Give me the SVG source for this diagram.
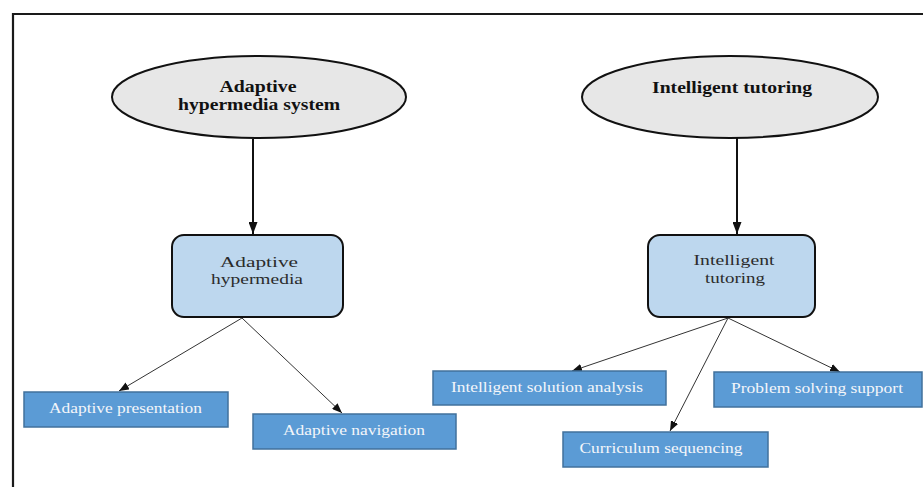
<svg xmlns="http://www.w3.org/2000/svg" width="923" height="487" viewBox="0 0 923 487">
  <style>
    .frame { fill: none; stroke: #1a1a1a; stroke-width: 2.2; }
    .root { fill: #e7e7e7; stroke: #111; stroke-width: 2; }
    .mid { fill: #bdd7ee; stroke: #111; stroke-width: 2; }
    .leaf { fill: #5b9bd5; stroke: #41719c; stroke-width: 1.5; }
    .t-root { font-family: "Liberation Serif", serif; font-weight: bold; font-size: 17px; fill: #111; text-anchor: middle; }
    .t-mid { font-family: "Liberation Serif", serif; font-size: 15px; fill: #2b2b2b; text-anchor: middle; }
    .t-leaf { font-family: "Liberation Serif", serif; font-size: 15px; fill: #f4f6fa; text-anchor: middle; }
    .thick { stroke: #111; stroke-width: 2; fill: none; }
    .thin { stroke: #333; stroke-width: 1; fill: none; }
  </style>
  <defs>
    <marker id="head" viewBox="0 0 12 9" refX="12" refY="4.5" markerWidth="12" markerHeight="9" markerUnits="userSpaceOnUse" orient="auto">
      <path d="M0,0 L12,4.5 L0,9 Z" fill="#111"/>
    </marker>
    <marker id="headSmall" viewBox="0 0 10 8" refX="10" refY="4" markerWidth="10" markerHeight="8" markerUnits="userSpaceOnUse" orient="auto">
      <path d="M0,0 L10,4 L0,8 Z" fill="#111"/>
    </marker>
  </defs>

  <rect width="923" height="487" fill="#ffffff"/>
  <!-- open frame: top and left edges -->
  <path class="frame" d="M13,487 L13,14 L923,14"/>

  <g id="connectors">
    <line class="thick" x1="253" y1="139" x2="253" y2="234" marker-end="url(#head)"/>
    <line class="thick" x1="737" y1="138" x2="737" y2="234" marker-end="url(#head)"/>
    <line class="thin" x1="242" y1="318" x2="119" y2="391" marker-end="url(#headSmall)"/>
    <line class="thin" x1="242" y1="318" x2="342" y2="413" marker-end="url(#headSmall)"/>
    <line class="thin" x1="728" y1="318" x2="572" y2="371" marker-end="url(#headSmall)"/>
    <line class="thin" x1="728" y1="318" x2="670" y2="431" marker-end="url(#headSmall)"/>
    <line class="thin" x1="728" y1="318" x2="840" y2="372" marker-end="url(#headSmall)"/>
  </g>

  <g id="adaptive-hypermedia-system">
    <ellipse class="root" cx="259" cy="97" rx="147" ry="41"/>
    <text class="t-root" x="258" y="92" textLength="77" lengthAdjust="spacingAndGlyphs">Adaptive</text>
    <text class="t-root" x="259" y="110" textLength="162" lengthAdjust="spacingAndGlyphs">hypermedia system</text>
  </g>

  <g id="intelligent-tutoring-system">
    <ellipse class="root" cx="730" cy="97" rx="148" ry="41"/>
    <text class="t-root" x="732" y="93" textLength="160" lengthAdjust="spacingAndGlyphs">Intelligent tutoring</text>
  </g>

  <g id="adaptive-hypermedia">
    <rect class="mid" x="172" y="235" width="171" height="82" rx="12"/>
    <text class="t-mid" x="259" y="267" textLength="78" lengthAdjust="spacingAndGlyphs">Adaptive</text>
    <text class="t-mid" x="257" y="284" textLength="92" lengthAdjust="spacingAndGlyphs">hypermedia</text>
  </g>

  <g id="intelligent-tutoring">
    <rect class="mid" x="648" y="235" width="167" height="82" rx="12"/>
    <text class="t-mid" x="734" y="265" textLength="81" lengthAdjust="spacingAndGlyphs">Intelligent</text>
    <text class="t-mid" x="735" y="283" textLength="60" lengthAdjust="spacingAndGlyphs">tutoring</text>
  </g>

  <g id="adaptive-presentation">
    <rect class="leaf" x="24" y="392" width="204" height="35"/>
    <text class="t-leaf" x="125.5" y="413" textLength="153" lengthAdjust="spacingAndGlyphs">Adaptive presentation</text>
  </g>

  <g id="adaptive-navigation">
    <rect class="leaf" x="253" y="414" width="203" height="35"/>
    <text class="t-leaf" x="354" y="435" textLength="142" lengthAdjust="spacingAndGlyphs">Adaptive navigation</text>
  </g>

  <g id="intelligent-solution-analysis">
    <rect class="leaf" x="433" y="371" width="233" height="34"/>
    <text class="t-leaf" x="547" y="392" textLength="192" lengthAdjust="spacingAndGlyphs">Intelligent solution analysis</text>
  </g>

  <g id="problem-solving-support">
    <rect class="leaf" x="714" y="372" width="208" height="35"/>
    <text class="t-leaf" x="817" y="393" textLength="172" lengthAdjust="spacingAndGlyphs">Problem solving support</text>
  </g>

  <g id="curriculum-sequencing">
    <rect class="leaf" x="563" y="432" width="205" height="35"/>
    <text class="t-leaf" x="661" y="453" textLength="163" lengthAdjust="spacingAndGlyphs">Curriculum sequencing</text>
  </g>
</svg>
